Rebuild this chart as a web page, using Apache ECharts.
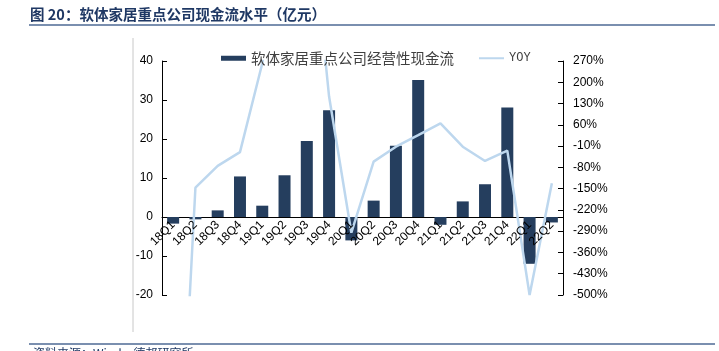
<!DOCTYPE html>
<html>
<head>
<meta charset="utf-8">
<script src="https://cdn.jsdelivr.net/npm/echarts@6/dist/echarts.min.js"></script>
<style>
  html, body { margin: 0; padding: 0; background: #fff; }
  #main { width: 719px; height: 351px; }
</style>
</head>
<body>
<div id="main"></div>
<script>
var quarters = ["18Q1", "18Q2", "18Q3", "18Q4", "19Q1", "19Q2", "19Q3", "19Q4", "20Q1",
  "20Q2", "20Q3", "20Q4", "21Q1", "21Q2", "21Q3", "21Q4", "22Q1", "22Q2"];
// 经营性现金流（亿元）
var cashFlow = [-1.7, -0.6, 1.7, 10.4, 2.9, 10.7, 19.5, 27.4, -6.0,
  4.2, 18.3, 35.1, -2.0, 4.0, 8.4, 28.1, -12.0, -1.4];
// 同比（%），超出坐标范围的部分被裁掉
var yoy = [-1550, -147, -75, -30, 262, 700, 880, 153, -295,
  -61, -12, 26, 65, -12, -59, -25, -500, -132];
var rightTicks = [-500, -430, -360, -290, -220, -150, -80, -10, 60, 130, 200, 270];

var barName = "软体家居重点公司经营性现金流";
var lineName = "YOY";

// 右轴刻度从 -500% 起每 70% 一格，换算成 0..11 的格数来画
var rStep = 70, rMin = rightTicks[0];
var yoyScaled = yoy.map(function (v) { return (v - rMin) / rStep; });

var myChart = echarts.init(document.getElementById("main"));

// 0 轴在网格里的位置：网格高 234，-20..40
var gridTop = 61, gridH = 234;
var zeroOffset = gridH * 20 / 60;

var option = {
  animation: false,
  grid: { left: 162, right: 156, top: gridTop, bottom: 351 - gridTop - gridH },
  legend: {
    left: 221,
    top: 51,
    padding: 0,
    itemGap: 24,
    itemWidth: 25,
    itemHeight: 5,
    textStyle: { fontSize: 14.5, color: "#404040", fontFamily: "Noto Sans CJK SC" },
    data: [
      { name: barName, icon: "rect" },
      {
        name: lineName,
        itemStyle: { opacity: 0 },
        textStyle: { fontFamily: "Liberation Mono", fontSize: 12, color: "#404040" },
      },
    ],
  },
  xAxis: [
    {
      type: "category",
      data: quarters,
      axisLine: { onZero: true, onZeroAxisIndex: 0, lineStyle: { color: "#000", width: 1 } },
      axisTick: { inside: true, length: 4, lineStyle: { color: "#000" } },
      axisLabel: { show: false },
    },
    {
      // 只画标签，贴在 0 轴下面
      type: "category",
      data: quarters,
      position: "bottom",
      offset: -zeroOffset,
      z: 5,
      axisLine: { show: false, onZero: false },
      axisTick: { show: false },
      axisLabel: {
        rotate: 45,
        margin: 6,
        padding: [8, 0, 0, 0],
        fontSize: 12,
        color: "#000",
        fontFamily: "Liberation Sans",
        interval: 0,
      },
    },
  ],
  yAxis: [
    {
      type: "value",
      min: -20,
      max: 40,
      interval: 10,
      splitLine: { show: false },
      axisLine: { show: true, lineStyle: { color: "#000" } },
      axisTick: { show: true, inside: true, length: 5, lineStyle: { color: "#000" } },
      axisLabel: { fontSize: 12, color: "#000", margin: 9, fontFamily: "Liberation Sans" },
    },
    {
      type: "value",
      min: 0,
      max: rightTicks.length - 1,
      interval: 1,
      splitLine: { show: false },
      axisLine: { show: true, lineStyle: { color: "#000" } },
      axisTick: { show: true, inside: true, length: 5, lineStyle: { color: "#000" } },
      axisLabel: {
        fontSize: 12,
        color: "#000",
        margin: 10,
        fontFamily: "Liberation Sans",
        formatter: function (v) { return rightTicks[Math.round(v)] + "%"; },
      },
    },
  ],
  series: [
    {
      name: barName,
      type: "bar",
      yAxisIndex: 0,
      barWidth: 12,
      itemStyle: { color: "#253E5E" },
      data: cashFlow,
    },
    {
      name: lineName,
      type: "line",
      yAxisIndex: 1,
      symbol: "none",
      clip: true,
      lineStyle: { color: "#BDD7EE", width: 2.5 },
      itemStyle: { color: "#BDD7EE" },
      data: yoyScaled,
    },
  ],
  graphic: [
    {
      type: "text",
      left: 30,
      top: 7,
      style: {
        text: "图 20：软体家居重点公司现金流水平（亿元）",
        font: "bold 14.5px 'Noto Sans CJK SC'",
        fill: "#1F3864",
      },
    },
    {
      type: "line",
      shape: { x1: 29, y1: 25, x2: 715, y2: 25 },
      style: { stroke: "#4E6A94", lineWidth: 1.5 },
    },
    {
      type: "line",
      shape: { x1: 133, y1: 38, x2: 133, y2: 332 },
      style: { stroke: "#C8C8C8", lineWidth: 1 },
    },
    {
      type: "line",
      shape: { x1: 29, y1: 344, x2: 715, y2: 344 },
      style: { stroke: "#4E6A94", lineWidth: 1.5 },
    },
    {
      type: "text",
      left: 33,
      top: 347,
      style: {
        text: "资料来源：Wind，德邦研究所",
        font: "12px 'Noto Sans CJK SC'",
        fill: "#1F3864",
      },
    },
  ],
};

myChart.setOption(option);
</script>
</body>
</html>
